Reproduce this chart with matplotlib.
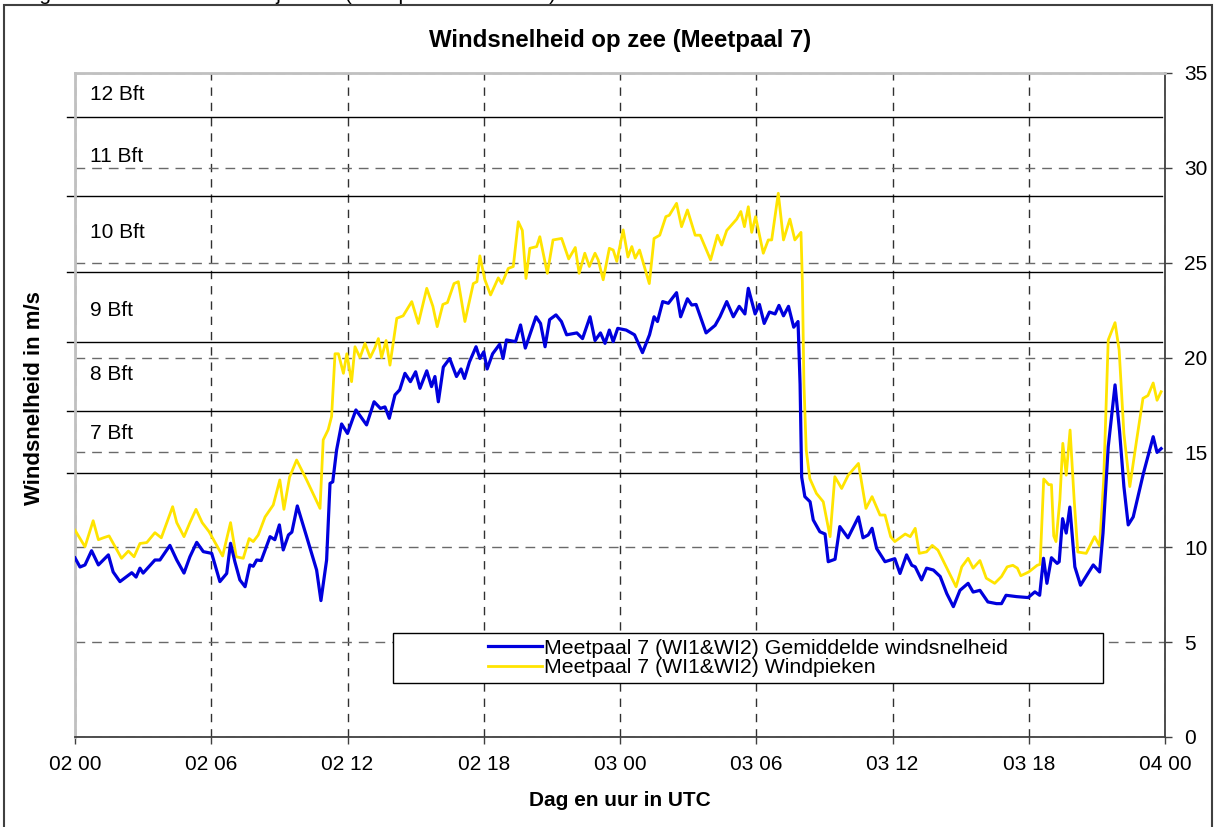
import numpy as np
import matplotlib
matplotlib.use('Agg')
import matplotlib.pyplot as plt
from matplotlib.patches import Rectangle

plt.rcParams['font.family'] = ['Liberation Sans', 'DejaVu Sans']

# uren sinds 02 00 UTC en windsnelheid (m/s)
uur_gem = [0.0, 0.22, 0.44, 0.73, 1.03, 1.47, 1.68, 1.98, 2.5, 2.69, 2.86, 3.0, 3.52, 3.74, 4.18,
           4.48, 4.8, 5.06, 5.36, 5.65, 6.02, 6.38, 6.68, 6.85, 7.04, 7.26, 7.49, 7.7, 7.85, 8.0,
           8.2, 8.59, 8.8, 9.0, 9.17, 9.4, 9.55, 9.79, 10.2, 10.64, 10.83, 11.08, 11.23, 11.35,
           11.52, 11.74, 12.0, 12.37, 12.84, 13.17, 13.45, 13.65, 13.84, 14.09, 14.3, 14.53,
           14.77, 15.0, 15.19, 15.49, 15.7, 15.85, 16.0, 16.22, 16.5, 16.8, 17.0, 17.15, 17.37,
           17.66, 17.83, 18.0, 18.15, 18.39, 18.7, 18.85, 19.0, 19.4, 19.62, 19.83, 20.3, 20.5,
           20.7, 20.9, 21.18, 21.42, 21.65, 22.1, 22.35, 22.68, 22.9, 23.14, 23.34, 23.53, 23.7,
           23.9, 24.27, 24.64, 24.99, 25.3, 25.5, 25.65, 25.88, 26.13, 26.49, 26.67, 26.97,
           27.16, 27.35, 27.79, 28.19, 28.4, 28.7, 28.99, 29.25, 29.5, 29.65, 29.95, 30.14,
           30.35, 30.58, 30.83, 31.0, 31.2, 31.42, 31.65, 31.84, 31.93, 32.0, 32.14, 32.37,
           32.51, 32.8, 33.03, 33.17, 33.47, 33.68, 34.04, 34.5, 34.7, 34.93, 35.1, 35.3, 35.67,
           36.1, 36.33, 36.62, 36.85, 37.0, 37.28, 37.5, 37.8, 38.1, 38.39, 38.68, 38.97, 39.33,
           39.55, 39.85, 40.2, 40.58, 40.8, 41.0, 41.46, 41.97, 42.27, 42.48, 42.65, 42.8, 43.0,
           43.25, 43.34, 43.49, 43.65, 43.81, 44.03, 44.28, 44.84, 45.12, 45.27, 45.5, 45.8,
           46.0, 46.19, 46.38, 46.6, 47.05, 47.25, 47.48, 47.65, 47.83]
gem = [9.44, 8.96, 9.07, 9.82, 9.07, 9.6, 8.7, 8.19, 8.66, 8.43, 8.9, 8.64, 9.33, 9.33, 10.1,
       9.33, 8.64, 9.5, 10.26, 9.77, 9.68, 8.19, 8.62, 10.21, 9.24, 8.28, 7.92, 9.07, 9.0, 9.33,
       9.3, 10.56, 10.4, 11.18, 9.86, 10.65, 10.8, 12.18, 10.56, 8.8, 7.19, 9.33, 13.37, 13.45,
       15.13, 16.5, 16.0, 17.24, 16.45, 17.67, 17.32, 17.4, 16.8, 18.03, 18.3, 19.17,
       18.73, 19.25, 18.38, 19.3, 18.47, 19.0, 17.67, 19.5, 19.95, 19.0, 19.4, 18.9, 19.77,
       20.57, 19.95, 20.3, 19.4, 20.2, 20.7, 19.95, 20.93, 20.84, 21.72, 20.5, 22.15, 21.8,
       20.57, 22.0, 22.25, 21.9, 21.2, 21.3, 21.0, 22.15, 20.9, 21.3, 20.75, 21.45, 20.84,
       21.54, 21.45, 21.2, 20.26, 21.2, 22.15, 21.9, 22.95, 22.86, 23.42, 22.15, 23.1,
       22.77, 22.8, 21.3, 21.7, 22.15, 22.95, 22.15, 22.7, 22.3, 23.65, 22.3, 22.8,
       21.8, 22.4, 22.3, 22.75, 22.2, 22.7, 21.6, 21.9, 18.6, 13.7, 12.67, 12.4,
       11.44, 10.82, 10.7, 9.24, 9.37, 11.09, 10.5, 11.6, 10.5, 10.65, 11.0, 9.94, 9.24,
       9.4, 8.62, 9.6, 9.05, 8.97, 8.28, 8.9, 8.8, 8.46, 7.56, 6.87, 7.73, 8.1,
       7.64, 7.73, 7.12, 7.03, 7.03, 7.47, 7.4, 7.35, 7.65, 7.47, 9.42, 8.1, 9.45,
       9.15, 9.24, 11.51, 10.75, 12.12, 8.97, 8.0, 9.07, 8.7, 10.74, 15.3, 18.56,
       16.1, 13.2, 11.18, 11.6, 13.9, 14.8, 15.83, 15.0, 15.2]

uur_piek = [0.0, 0.44, 0.8, 1.03, 1.25, 1.5, 2.05, 2.35, 2.6, 2.86, 3.16, 3.52, 3.8, 4.3, 4.48,
            4.8, 5.06, 5.33, 5.6, 5.9, 6.24, 6.5, 6.85, 7.1, 7.41, 7.67, 7.85, 8.07, 8.37, 8.73,
            9.02, 9.2, 9.45, 9.76, 10.2, 10.79, 10.93, 11.15, 11.3, 11.45, 11.6, 11.82, 11.97,
            12.18, 12.33, 12.55, 12.77, 13.0, 13.2, 13.36, 13.5, 13.7, 13.87, 14.17, 14.45,
            14.83, 15.12, 15.49, 15.76, 15.95, 16.2, 16.4, 16.69, 16.88, 17.17, 17.54, 17.7,
            17.83, 18.05, 18.3, 18.64, 18.8, 19.08, 19.3, 19.52, 19.7, 19.86, 20.03, 20.33,
            20.47, 20.8, 21.05, 21.43, 21.74, 22.03, 22.2, 22.45, 22.65, 22.9, 23.04, 23.26,
            23.53, 23.7, 23.86, 24.14, 24.35, 24.52, 24.67, 24.86, 25.07, 25.29, 25.5, 25.75,
            26.02, 26.17, 26.49, 26.71, 26.97, 27.31, 27.53, 27.99, 28.29, 28.48, 28.7, 28.92,
            29.14, 29.32, 29.48, 29.65, 29.8, 29.97, 30.31, 30.53, 30.68, 30.97, 31.2, 31.48,
            31.7, 31.97, 32.03, 32.1, 32.2, 32.36, 32.65, 32.95, 33.25, 33.46, 33.76, 34.05,
            34.5, 34.83, 35.1, 35.45, 35.67, 35.92, 36.1, 36.56, 36.78, 37.0, 37.18, 37.5,
            37.75, 38.0, 38.33, 38.8, 39.05, 39.33, 39.55, 39.85, 40.13, 40.5, 40.8, 41.05,
            41.3, 41.5, 41.65, 42.0, 42.37, 42.5, 42.66, 42.88, 43.0, 43.1, 43.2, 43.37, 43.5,
            43.65, 43.82, 44.0, 44.16, 44.53, 44.9, 45.12, 45.3, 45.5, 45.8, 45.98, 46.19,
            46.45, 46.75, 47.03, 47.25, 47.48, 47.65, 47.83]
piek = [10.9, 10.03, 11.4, 10.4, 10.5, 10.6, 9.42, 9.8, 9.5, 10.2, 10.25, 10.77, 10.5, 12.14, 11.3,
        10.56, 11.3, 12.0, 11.3, 10.83, 10.1, 9.54, 11.3, 9.5, 9.42, 10.46, 10.3, 10.65, 11.6, 12.23,
        13.55, 12.0, 13.7, 14.6, 13.55, 12.05, 15.66, 16.2, 16.9, 20.2, 20.2, 19.17, 20.2,
        18.73, 20.57, 20.0, 20.75, 20.0, 20.5, 21.0, 20.0, 20.9, 19.6, 22.07, 22.2,
        22.95, 21.8, 23.65, 22.7, 21.63, 22.8, 22.9, 23.9, 24.0, 21.9, 23.9, 24.0,
        25.36, 24.1, 23.3, 24.2, 23.9, 24.7, 24.8, 27.16, 26.7, 24.17, 25.76, 25.85,
        26.37, 24.44, 26.2, 26.28, 25.2, 25.8, 24.44, 25.5, 24.8, 25.5, 25.15, 24.1,
        25.76, 25.67, 25.07, 26.73, 25.3, 25.85, 25.24, 25.67, 24.8, 23.9, 26.28, 26.45,
        27.43, 27.5, 28.13, 26.9, 27.78, 26.45, 26.45, 25.15, 26.45, 25.93, 26.7, 27.0,
        27.3, 27.7, 26.9, 27.95, 26.6, 27.43, 25.5, 26.2, 26.2, 28.66, 26.2, 27.3,
        26.2, 26.6, 24.0, 18.6, 15.13, 13.62, 12.84, 12.4, 10.56, 13.72, 13.1, 13.8,
        14.42, 12.05, 12.67, 11.7, 11.7, 10.56, 10.3, 10.7, 10.56, 11.0, 9.68, 9.76,
        10.1, 9.85, 9.05, 7.92, 8.97, 9.42, 8.9, 9.3, 8.37, 8.1, 8.46, 8.97,
        9.05, 8.9, 8.5, 8.7, 9.05, 9.1, 13.6, 13.3, 13.3, 10.6, 10.3, 12.5, 15.48,
        13.8, 16.18, 12.5, 9.75, 9.68, 10.56, 10.07, 13.55, 20.93, 21.84, 20.4, 16.0,
        13.2, 15.65, 17.85, 18.0, 18.66, 17.75, 18.2]

# Beaufort-grenzen (m/s) en plaats van de labels
bft_grenzen = [13.9, 17.2, 20.8, 24.5, 28.5, 32.7]
bft_labels = ['7 Bft', '8 Bft', '9 Bft', '10 Bft', '11 Bft', '12 Bft']
bft_label_y = [16.0, 19.1, 22.5, 26.6, 30.6, 33.85]

x_ticks = [0, 6, 12, 18, 24, 30, 36, 42, 48]
x_labels = ['02 00', '02 06', '02 12', '02 18', '03 00', '03 06', '03 12', '03 18', '04 00']
y_ticks = [0, 5, 10, 15, 20, 25, 30, 35]

W, H = 1216, 827
fig = plt.figure(figsize=(W / 100, H / 100), dpi=100)
ax = fig.add_axes([75 / W, 90 / H, 1090 / W, 664 / H])

# lijnen
l_piek, = ax.plot(uur_piek, piek, color='#FFE400', lw=2.0, zorder=3,
                  solid_joinstyle='round', label='Meetpaal 7 (WI1&WI2) Windpieken')
l_gem, = ax.plot(uur_gem, gem, color='#0000DD', lw=2.3, zorder=4,
                 solid_joinstyle='round', label='Meetpaal 7 (WI1&WI2) Gemiddelde windsnelheid')

# Beaufort-lijnen en labels
for g in bft_grenzen:
    ax.plot([-0.007, 0.997], [g, g], color='black', lw=1, transform=ax.get_yaxis_transform(),
            clip_on=False, zorder=2)
for lab, y in zip(bft_labels, bft_label_y):
    ax.text(0.0135, y, lab, transform=ax.get_yaxis_transform(), va='center', ha='left', fontsize=15)

ax.set_xlim(0, 48)
ax.set_ylim(0, 35)
ax.set_xticks(x_ticks)
ax.set_xticklabels(x_labels)
ax.set_yticks(y_ticks)
ax.yaxis.tick_right()
ax.tick_params(axis='x', direction='out', length=5, width=1, color='#404040', labelsize=15, pad=8)
ax.tick_params(axis='y', direction='out', length=5, width=1, color='#404040', labelsize=15, pad=9)

ax.grid(axis='y', ls=(0, (7, 5)), color='#6a6a6a', lw=1, zorder=1)
ax.grid(axis='x', ls=(0, (6, 5)), color='#303030', lw=1, zorder=1)

for s in ['top', 'left']:
    ax.spines[s].set_color('#c0c0c0')
    ax.spines[s].set_linewidth(2)
for s in ['bottom', 'right']:
    ax.spines[s].set_color('#404040')
    ax.spines[s].set_linewidth(1.3)

# legenda in een kader
ax.add_patch(Rectangle((0.2917, 0.0813), 0.6514, 0.0753, transform=ax.transAxes,
                       facecolor='white', edgecolor='black', lw=1, zorder=5))
leg = ax.legend(handles=[l_gem, l_piek], loc='center', bbox_to_anchor=(0.6174, 0.119),
                frameon=False, fontsize=15.3, handlelength=2.5, handletextpad=0.1,
                labelspacing=0.02, borderpad=0)
leg.set_zorder(6)

# teksten
fig.text(620 / W, 1 - 40 / H, 'Windsnelheid op zee (Meetpaal 7)', ha='center', va='center',
         fontsize=17.3, fontweight='bold')
fig.text(620 / W, 1 - 800 / H, 'Dag en uur in UTC', ha='center', va='center',
         fontsize=15, fontweight='bold')
fig.text(35 / W, 1 - 398 / H, 'Windsnelheid in m/s', ha='center', va='center', rotation=90,
         fontsize=16, fontweight='bold')
fig.text(22 / W, 1.0, 'Figuur 2: Windsnelheid 2/3 januari (Meetpaal 7/WI1&WI2)', ha='left',
         va='baseline', fontsize=15)

# kader rond de figuur
fig.patches.append(Rectangle((4 / W, -0.01), 1208 / W, 1.01 - 5 / H, transform=fig.transFigure,
                             fill=False, edgecolor='#404040', lw=1.5))

fig.savefig('out.png', dpi=100)
